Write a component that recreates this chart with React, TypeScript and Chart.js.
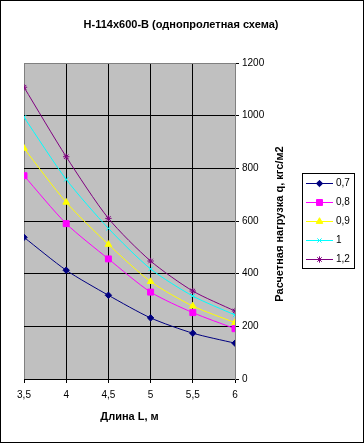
import React, { useEffect, useRef } from "react";
import { Chart, registerables } from "chart.js";
import { drawPoint } from "chart.js/helpers";

Chart.register(...registerables);

const lengths = [3.5, 4, 4.5, 5, 5.5, 6];
const seriesLabels = ["0,7", "0,8", "0,9", "1", "1,2"];
const s07 = [538, 413, 318, 232, 174, 136];
const s08 = [772, 590, 456, 330, 252, 191];
const s09 = [876, 671, 511, 370, 277, 214];
const s10 = [994, 758, 572, 418, 315, 243];
const s12 = [1108, 844, 610, 448, 334, 258];
const colors = ["#000080", "#FF00FF", "#FFFF00", "#00FFFF", "#800080"];
const pointStyles = ["rectRot", "rect", "triangle", "crossRot", "star"];
const pointRadii = [3.2, 4.2, 3.8, 3, 3.2];
const titleText = "Н-114х600-В (однопролетная схема)";
const xTitle = "Длина L, м";
const yTitle = "Расчетная нагрузка q, кгс/м2";

const FONT = "Arial, 'Liberation Sans', sans-serif";

const fmt = (v: number) => String(v).replace(".", ",");

const decorPlugin = {
  id: "decor",
  beforeDraw(chart: any) {
    const { ctx, width, height, chartArea } = chart;
    ctx.save();
    ctx.fillStyle = "#ffffff";
    ctx.fillRect(0, 0, width, height);
    ctx.fillStyle = "#c0c0c0";
    ctx.fillRect(chartArea.left, chartArea.top, chartArea.right - chartArea.left, chartArea.bottom - chartArea.top);
    ctx.restore();
  },
  afterDraw(chart: any) {
    const { ctx, width, height, chartArea } = chart;
    ctx.save();
    ctx.fillStyle = "#000";
    ctx.textAlign = "center";
    ctx.textBaseline = "middle";
    ctx.font = `bold 11px ${FONT}`;
    ctx.fillText(titleText, 181, 25);
    ctx.fillText(xTitle, (chartArea.left + chartArea.right) / 2, 417);
    ctx.save();
    ctx.translate(280, (chartArea.top + chartArea.bottom) / 2 + 3);
    ctx.rotate(-Math.PI / 2);
    ctx.fillText(yTitle, 0, 0);
    ctx.restore();

    // legend
    const lx = 302, ly = 173, lw = 52, lh = 95;
    ctx.fillStyle = "#fff";
    ctx.fillRect(lx, ly, lw, lh);
    ctx.strokeStyle = "#000";
    ctx.lineWidth = 1;
    ctx.strokeRect(lx + 0.5, ly + 0.5, lw, lh);
    ctx.font = `10px ${FONT}`;
    ctx.textAlign = "left";
    chart.data.datasets.forEach((ds: any, i: number) => {
      const y = 183.5 + i * 19;
      ctx.strokeStyle = ds.borderColor;
      ctx.lineWidth = 1;
      ctx.beginPath();
      ctx.moveTo(306, y);
      ctx.lineTo(333, y);
      ctx.stroke();
      ctx.fillStyle = ds.pointBackgroundColor;
      ctx.strokeStyle = ds.pointBorderColor;
      drawPoint(ctx, { pointStyle: ds.pointStyle, radius: ds.pointRadius, borderWidth: 1, rotation: 0 }, 319.5, y);
      ctx.fillStyle = "#000";
      ctx.fillText(ds.label, 336, y);
    });

    // outer border
    ctx.strokeStyle = "#000";
    ctx.lineWidth = 1;
    ctx.strokeRect(0.5, 0.5, width - 1, height - 1);
    ctx.restore();
  },
};

export default function App() {
  const ref = useRef<HTMLCanvasElement>(null);
  useEffect(() => {
    if (!ref.current) return;
    const all = [s07, s08, s09, s10, s12];
    const chart = new Chart(ref.current, {
      type: "line",
      data: {
        datasets: all.map((s, i) => ({
          label: seriesLabels[i],
          data: s.map((v, j) => ({ x: lengths[j], y: v })),
          borderColor: colors[i],
          backgroundColor: colors[i],
          pointBackgroundColor: colors[i],
          pointBorderColor: colors[i],
          pointStyle: pointStyles[i] as any,
          pointRadius: pointRadii[i],
          pointBorderWidth: 1,
          borderWidth: 1,
          tension: 0.25,
          fill: false,
        })),
      },
      options: {
        animation: false,
        responsive: false,
        devicePixelRatio: 1,
        layout: { padding: { left: 24, top: 63, right: 0, bottom: 0 } },
        plugins: { legend: { display: false }, tooltip: { enabled: false }, title: { display: false } },
        scales: {
          x: {
            type: "linear",
            min: 3.5,
            max: 6,
            afterFit: (s: any) => { s.height = 64; },
            ticks: {
              stepSize: 0.5,
              padding: 6,
              color: "#000",
              font: { family: FONT, size: 10 },
              maxRotation: 0,
              callback: (v: any) => fmt(Number(v)),
            },
            grid: {
              color: (c: any) => (c.index === 0 || c.index === lengths.length - 1 ? "#808080" : "#000"),
              tickColor: "#000",
              tickLength: 4,
              lineWidth: 1,
            },
            border: { display: true, color: "#000", width: 1 },
          },
          y: {
            position: "right",
            min: 0,
            max: 1200,
            afterFit: (s: any) => { s.width = 129; },
            ticks: {
              stepSize: 200,
              padding: 3,
              color: "#000",
              font: { family: FONT, size: 10 },
              callback: (v: any) => String(v),
            },
            grid: {
              color: (c: any) => (c.tick && c.tick.value === 1200 ? "#808080" : "#000"),
              tickColor: "#000",
              tickLength: 4,
              lineWidth: 1,
            },
            border: { display: true, color: "#808080", width: 1 },
          },
        },
      },
      plugins: [decorPlugin],
    });
    return () => chart.destroy();
  }, []);
  return (
    <div style={{ position: "fixed", left: 0, top: 0, width: 364, height: 443 }}>
      <canvas ref={ref} width={364} height={443} style={{ display: "block" }} />
    </div>
  );
}
